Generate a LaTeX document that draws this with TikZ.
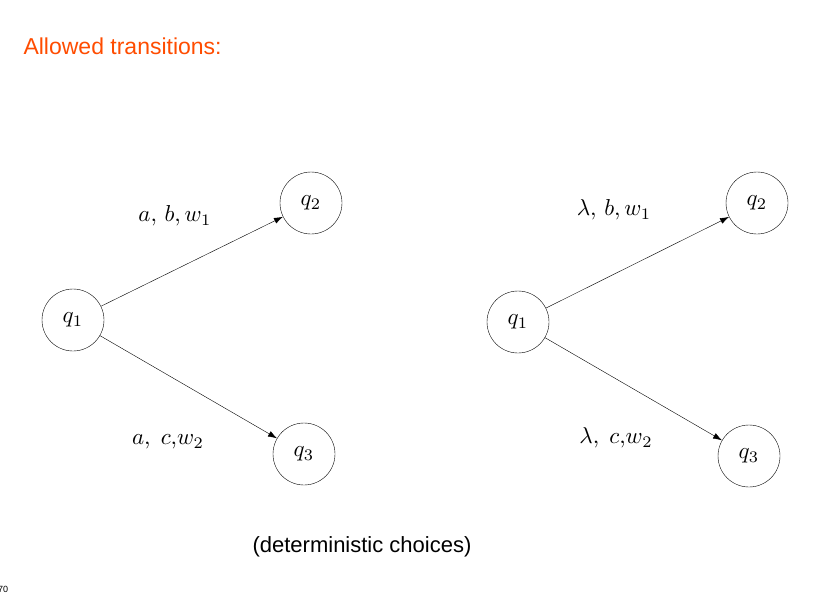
\documentclass[tikz,border=0pt]{standalone}
\usepackage{fontspec}
\setsansfont{Liberation Sans}
\usetikzlibrary{arrows.meta}
\begin{document}
\begin{tikzpicture}[x=1pt,y=-1pt,
  st/.style={draw,circle,minimum size=62pt,inner sep=0pt},
  tr/.style={-{Latex[length=9pt,width=6pt]},thin},
  lb/.style={}]
\useasboundingbox (0,0) rectangle (826,599);
\node[anchor=west,text=orange!60!red,font=\sffamily\fontsize{23}{23}\selectfont] (title) at (20,46) {Allowed transitions:};
\node[st] (a1) at (73,320) {};
\node[st] (a2) at (311,203) {};
\node[st] (a3) at (304,454) {};
\node[st] (b1) at (518,322) {};
\node[st] (b2) at (757,203) {};
\node[st] (b3) at (749,456) {};
\foreach \n/\t in {a1/1,a2/2,a3/3,b1/1,b2/2,b3/3}
  \node[scale=2.3] at (\n) {$q_\t$};
\draw[tr] (a1) -- (a2);
\draw[tr] (a1) -- (a3);
\draw[tr] (b1) -- (b2);
\draw[tr] (b1) -- (b3);
\node[scale=2.3] (l1) at (175,216) {$a,\,b,w_1$};
\node[scale=2.3] (l2) at (168,442) {$a,\;c{,}w_2$};
\node[scale=2.3] (l3) at (614,210) {$\lambda,\,b,w_1$};
\node[scale=2.3] (l4) at (616,438) {$\lambda,\;c{,}w_2$};
\node[font=\sffamily\fontsize{22}{22}\selectfont] (cap) at (362,547) {(deterministic choices)};
\node[anchor=west,font=\sffamily\fontsize{9}{9}\selectfont,inner sep=0pt] (pg) at (-2,589) {70};
\end{tikzpicture}
\end{document}
